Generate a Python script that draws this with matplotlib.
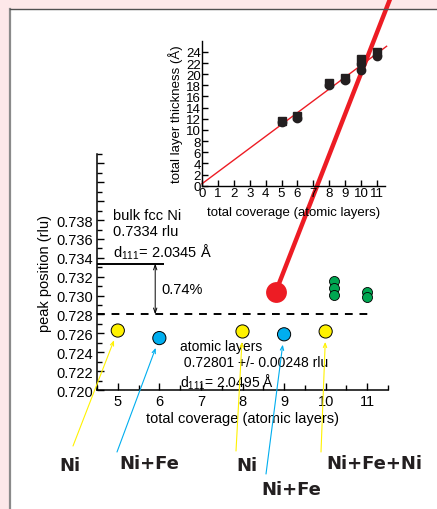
import numpy as np
import matplotlib
matplotlib.use('Agg')
import matplotlib.pyplot as plt
from matplotlib.patches import Rectangle
from matplotlib.lines import Line2D

plt.rcParams['font.family'] = ['Liberation Sans', 'DejaVu Sans']
plt.rcParams['mathtext.fontset'] = 'custom'
plt.rcParams['mathtext.rm'] = 'Liberation Sans'
plt.rcParams['mathtext.it'] = 'Liberation Sans:italic'

# main panel: peak positions
samp_x = [5, 6, 8, 9, 10]
samp_y = [0.7263, 0.7255, 0.7262, 0.7259, 0.7262]
samp_col = ['#fff200', '#00aeef', '#fff200', '#00aeef', '#fff200']
samp_name = ['Ni', 'Ni+Fe', 'Ni', 'Ni+Fe', 'Ni+Fe+Ni']
green_x = [10.2, 10.2, 10.2, 11, 11]
green_y = [0.7315, 0.7308, 0.7301, 0.7304, 0.7298]
red_x, red_y = 8.8, 0.7304
bulk_y = 0.7334
layer_y = 0.72801

# inset: thickness vs coverage
sq_x = [5, 6, 8, 9, 10, 11]
sq_y = [11.6, 12.5, 18.5, 19.3, 22.8, 23.9]
ci_x = [5, 6, 8, 9, 10, 10, 11]
ci_y = [11.4, 12.2, 18.0, 19.0, 21.8, 20.7, 23.3]
fit_x = [0, 11.6]
fit_y = [0.35, 25.0]

W, H = 437, 510
def px(x, y):
    return (x / W, 1 - y / H)

fig = plt.figure(figsize=(4.37, 5.10), dpi=100, facecolor='#fde8e9')
fig.add_artist(Rectangle(px(10, 510), 1, 500 / H, transform=fig.transFigure,
                         facecolor='white', edgecolor='none', zorder=-5))
fig.add_artist(Line2D([10 / W, 10 / W], [0, 1 - 10 / H], transform=fig.transFigure,
                      color='#8a8a8a', lw=1.6))
fig.add_artist(Line2D([10 / W, 1], [1 - 10 / H, 1 - 10 / H], transform=fig.transFigure,
                      color='#505050', lw=1.0))

red = '#ed1c24'
ax = fig.add_axes([97 / W, 1 - 391 / H, (388 - 97) / W, (391 - 155) / H])
ax.patch.set_alpha(0)
for s in ['top', 'right']:
    ax.spines[s].set_visible(False)
for s in ['left', 'bottom']:
    ax.spines[s].set_linewidth(1.1)
ax.set_xlim(4.5, 11.5)
ax.set_ylim(0.720, 0.745)
ax.set_xticks(range(5, 12))
ax.set_xticks(np.arange(4.5, 11.6, 0.5), minor=True)
ax.set_yticks(np.arange(0.720, 0.7445, 0.002))
ax.set_yticks(np.arange(0.720, 0.7455, 0.001), minor=True)
ax.set_yticklabels(['%.3f' % v if v < 0.7385 else '' for v in ax.get_yticks()])
ax.tick_params(direction='in', length=5, width=1, labelsize=10.5, pad=3)
ax.tick_params(which='minor', direction='in', length=3.5, width=1)
ax.set_xlabel('total coverage (atomic layers)', fontsize=10.5, labelpad=2)
ax.set_ylabel('peak position (rlu)', fontsize=10.5, labelpad=3)

ax.hlines(layer_y, 4.5, 11.1, colors='black', lw=1.4, linestyles=(0, (4, 3.5)))
ax.hlines(bulk_y, 4.5, 6.1, colors='black', lw=1.4)
ax.annotate('', xy=(5.9, layer_y), xytext=(5.9, bulk_y),
            arrowprops=dict(arrowstyle='<->,head_length=0.35,head_width=0.12', lw=0.7,
                            color='black', shrinkA=0, shrinkB=0))
ax.text(6.05, (bulk_y + layer_y) / 2, '0.74%', fontsize=10.5, va='center')
ax.text(4.88, 0.7365, 'bulk fcc Ni\n0.7334 rlu\nd$_{111}$= 2.0345 Å', fontsize=10.5,
        va='center', linespacing=1.2)
ax.text(6.5, 0.72265, 'atomic layers\n 0.72801 +/- 0.00248 rlu\nd$_{111}$= 2.0495 Å',
        fontsize=10, va='center', linespacing=1.15)

# thick red connector from the red dot to the inset
ax.annotate('', xy=(red_x, red_y), xycoords='data', xytext=px(392, -5),
            textcoords='figure fraction', annotation_clip=False,
            arrowprops=dict(arrowstyle='-', lw=3.2, color=red, shrinkA=0, shrinkB=0),
            zorder=4)
ax.plot([red_x], [red_y], 'o', ms=15, color=red, mec='none', zorder=5, clip_on=False)
ax.scatter(green_x, green_y, s=52, c='#00a651', edgecolors='black', linewidths=0.6,
           zorder=5, clip_on=False)
ax.scatter(samp_x, samp_y, s=90, c=samp_col, edgecolors='black', linewidths=0.7,
           zorder=5, clip_on=False)

# labels and arrows below the chart
tails = [(73, 447), (117, 453), (236, 452), (266, 475), (321, 453)]
lab_pos = [(70, 466), (149, 464), (247, 466), (291, 490), (374, 464)]
for xx, yy, c, name, t, lp in zip(samp_x, samp_y, samp_col, samp_name, tails, lab_pos):
    ax.annotate('', xy=(xx, yy), xytext=px(*t), textcoords='figure fraction',
                annotation_clip=False,
                arrowprops=dict(arrowstyle='->,head_length=0.3,head_width=0.12', lw=0.8,
                                color=c, shrinkA=0, shrinkB=7.5), zorder=3)
    fig.text(*px(*lp), name, fontsize=13, fontweight='bold', family='DejaVu Sans',
             ha='center', va='center', color='#231f20')

# inset
ins = fig.add_axes([202 / W, 1 - 186.7 / H, (385 - 202) / W, (186.7 - 41.7) / H])
ins.patch.set_alpha(0)
for s in ['top', 'right']:
    ins.spines[s].set_visible(False)
for s in ['left', 'bottom']:
    ins.spines[s].set_linewidth(1.0)
ins.set_xlim(0, 11.5)
ins.set_ylim(0, 26)
ins.set_xticks(range(0, 12))
ins.set_yticks(range(0, 25, 2))
ins.tick_params(direction='in', length=4, width=1, labelsize=9.5, pad=1)
ins.set_xlabel('total coverage (atomic layers)', fontsize=9.5, labelpad=5)
ins.set_ylabel('total layer thickness (Å)', fontsize=9.5, labelpad=2)
ins.plot(fit_x, fit_y, color=red, lw=1.0, clip_on=False)
ins.plot(sq_x, sq_y, 's', ms=6, color='#231f20', mec='#231f20')
ins.plot(ci_x, ci_y, 'o', ms=6, color='#231f20', mec='#231f20')

fig.savefig('out.png', dpi=100, facecolor=fig.get_facecolor())
